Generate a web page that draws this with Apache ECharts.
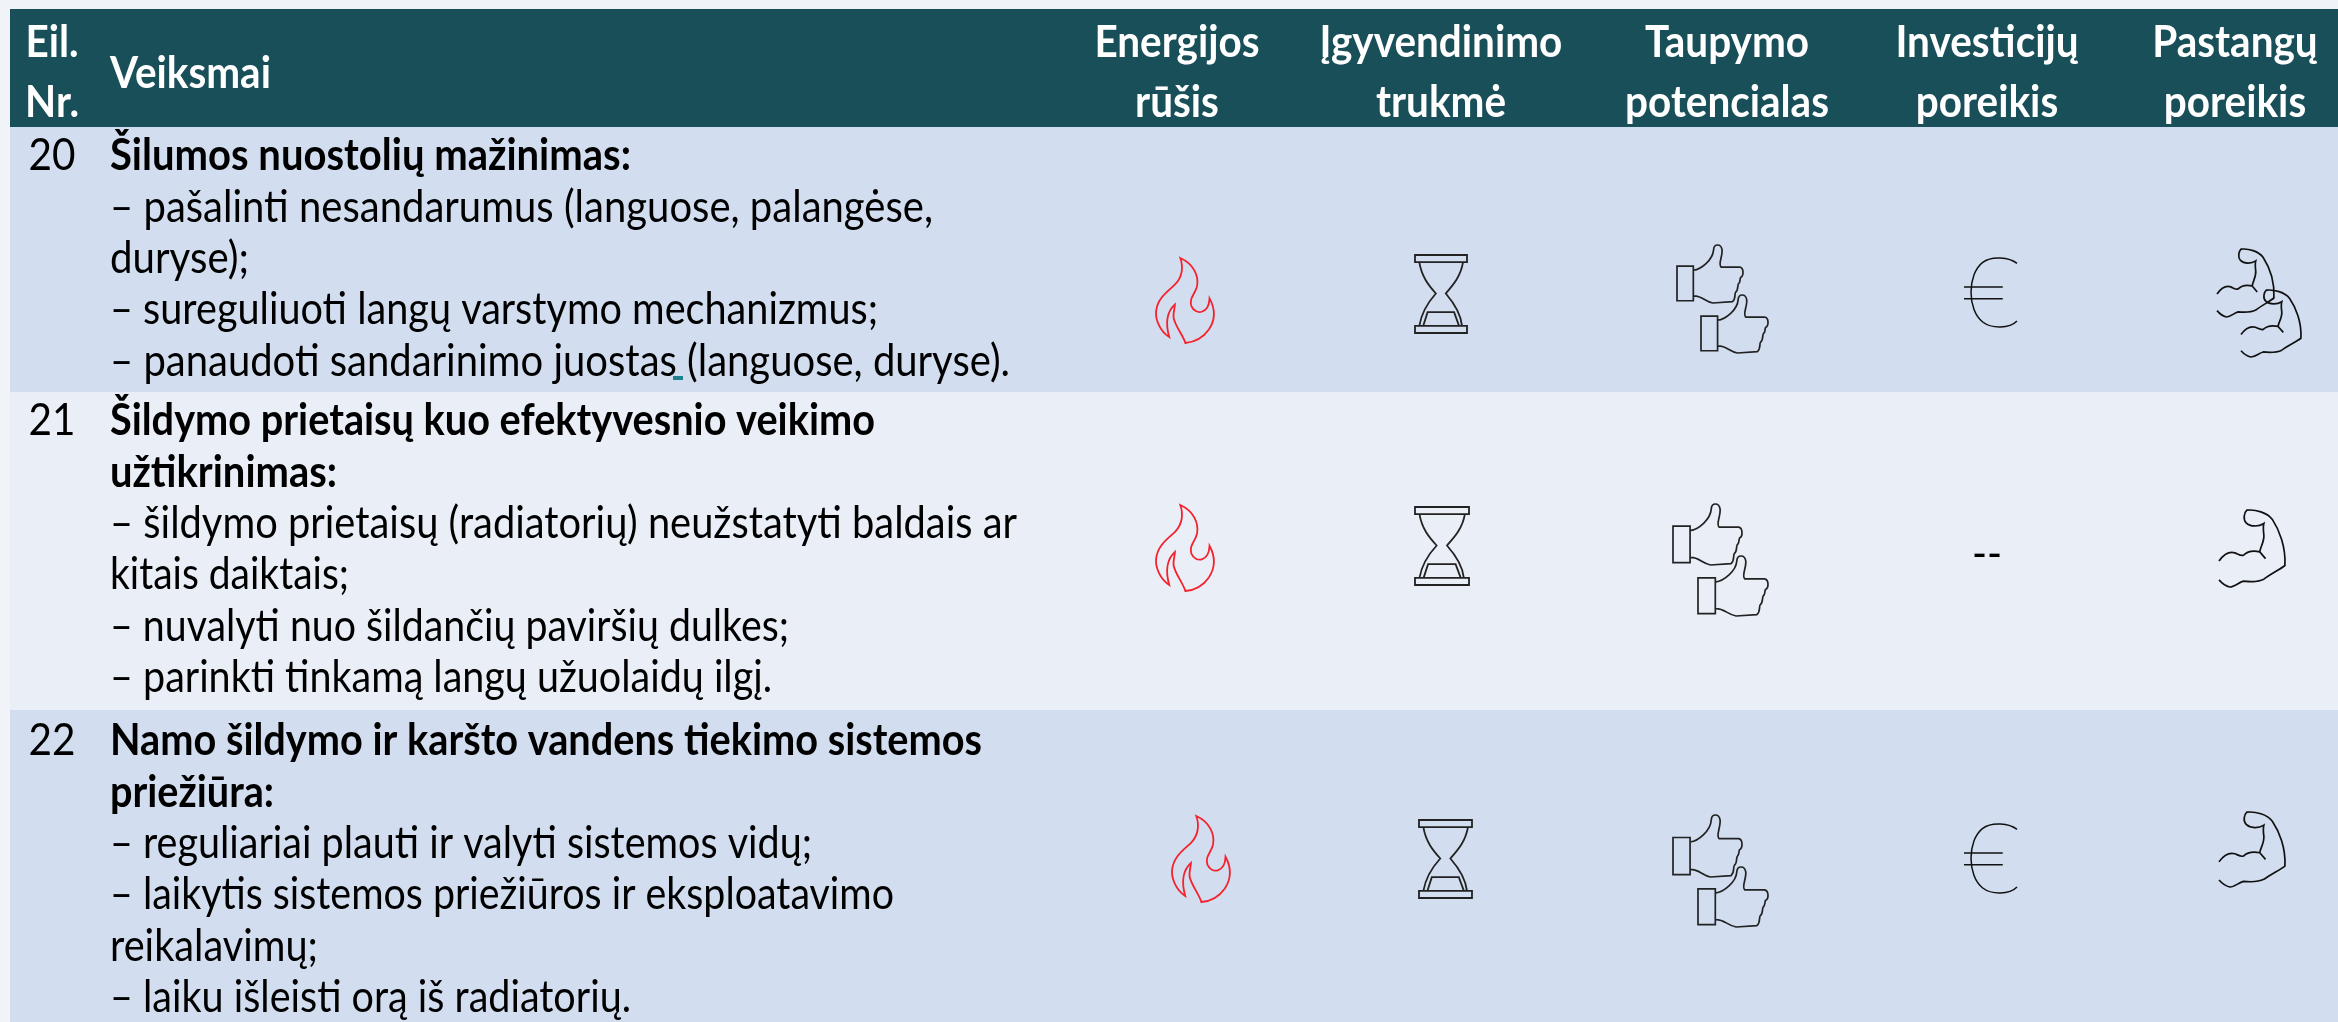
<!DOCTYPE html>
<html>
<head>
<meta charset="utf-8">
<title>Veiksmai</title>
<script src="https://cdn.jsdelivr.net/npm/echarts@6/dist/echarts.min.js"></script>
<style>
  html, body { margin: 0; padding: 0; background: #f0f4f8; }
  #main { width: 2338px; height: 1022px; }
</style>
</head>
<body>
<div id="main"></div>
<script>
// table content
const headerNumber = ['Eil.', 'Nr.'];
const headerActions = 'Veiksmai';
const headerColumns = [
  ['Energijos', 'rūšis'],
  ['Įgyvendinimo', 'trukmė'],
  ['Taupymo', 'potencialas'],
  ['Investicijų', 'poreikis'],
  ['Pastangų', 'poreikis']
];
const rowNumbers = ['20', '21', '22'];
const rowTitles = [
  ['Šilumos nuostolių mažinimas:'],
  ['Šildymo prietaisų kuo efektyvesnio veikimo', 'užtikrinimas:'],
  ['Namo šildymo ir karšto vandens tiekimo sistemos', 'priežiūra:']
];
const rowActions = [
  ['– pašalinti nesandarumus (languose, palangėse,', 'duryse);', '– sureguliuoti langų varstymo mechanizmus;', '– panaudoti sandarinimo juostas (languose, duryse).'],
  ['– šildymo prietaisų (radiatorių) neužstatyti baldais ar', 'kitais daiktais;', '– nuvalyti nuo šildančių paviršių dulkes;', '– parinkti tinkamą langų užuolaidų ilgį.'],
  ['– reguliariai plauti ir valyti sistemos vidų;', '– laikytis sistemos priežiūros ir eksploatavimo', 'reikalavimų;', '– laiku išleisti orą iš radiatorių.']
];
const savingsLevel = [2, 2, 2];
const investmentLevel = [1, 0, 1];
const effortLevel = [2, 1, 1];

// icon outlines
const flamePath = 'M150 87C190 105 205 140 200 170C195 195 175 205 183 230C195 258 235 255 237 207C255 240 255 270 235 300C215 328 190 338 165 340C160 320 135 290 130 265C128 250 134 235 134 225C112 245 105 280 117 322C90 305 75 270 78 245C82 205 115 185 135 165C155 145 160 115 150 87Z';
const glassPath = 'M855 77H1012V98H855ZM855 285H1012V306H855ZM868 98C875 140 895 165 918 190C895 215 875 245 868 285M1000 98C993 140 970 165 948 190C970 215 993 245 997 285M880 285L893 245H973L988 285';
const thumbPath = 'M40 95H90V202H40ZM90 108C115 105 150 75 152 45C153 25 175 25 178 45C180 65 165 90 175 98H232C245 100 245 125 235 130C232 135 235 145 228 150C225 155 228 170 220 175C215 180 222 195 210 205L150 209C125 205 115 185 90 187';
const euroPath = 'M847 103C830 85 790 80 770 100C735 135 735 240 770 275C790 295 830 295 847 272M728 172H815M728 207H815';
const armPath = 'M58 182C70 165 85 152 105 158C115 162 122 168 130 165C140 155 155 150 178 155L195 175M178 155C180 140 192 125 190 105C188 90 188 80 190 72C175 82 150 82 138 70C128 60 132 40 140 33C165 30 200 40 215 60C235 90 255 140 252 195C240 205 210 220 190 235C170 245 150 243 130 241C115 245 105 258 90 258C80 256 65 245 58 237';

// layout, in picture pixels
const FONT = 'Lato';
const FONT_SIZE = 44;
const TEXT_SCALE = 0.92;
const BASELINE_DROP = 12;
const bands = [
  [10, 9, 2338, 127, '#184f59'],
  [10, 127, 2338, 392, '#d2deef'],
  [10, 392, 2338, 710, '#eaeff7'],
  [10, 710, 2338, 1022, '#d2deef'],
  [673, 376, 683, 380, '#1f7f8c']
];
const columnCenters = [1177, 1441, 1727, 1987, 2235];
const numberCenter = 52;
const textLeft = 110;
const firstBaselines = [166, 431, 751];
const lineStep = 51.4;
// where each body line ends on the right, row by row
const lineEnds = [
  [631, 933, 249, 878, 1010],
  [875, 337, 1017, 349, 789, 772],
  [982, 274, 812, 894, 318, 631]
];

const flameBoxes = [[1156, 258, 1214, 343], [1156, 505, 1214, 591], [1172, 816, 1230, 902]];
const glassBoxes = [[1415, 255, 1467, 333], [1415, 507, 1469, 585], [1419, 820, 1472, 898]];
const thumbBoxes = [
  [[1677, 245, 1743, 303], [1701, 295, 1768, 353]],
  [[1673, 504, 1742, 565], [1698, 556, 1768, 616]],
  [[1673, 815, 1742, 877], [1698, 867, 1768, 927]]
];
const euroBoxes = [[1964, 258, 2017, 327], null, [1964, 824, 2017, 893]];
const dashPlace = [1987, 565];
const armBoxes = [
  [[2217, 249, 2274, 317], [2241, 290, 2301, 357]],
  [[2219, 510, 2285, 587]],
  [[2219, 812, 2285, 887]]
];

// the installed font is not the original one, so body lines get squeezed to their reference width
const measureCtx = document.createElement('canvas').getContext('2d');
function fitScale(text, bold, right) {
  measureCtx.font = (bold ? 'bold ' : '') + FONT_SIZE + 'px ' + FONT;
  return (right - textLeft) / measureCtx.measureText(text).width;
}

// flatten the table into text items and icon items
const textItems = [];
function addText(text, x, y, bold, color, align, scale) {
  textItems.push({ text, x, y, bold, color, align, scale: scale || TEXT_SCALE });
}
addText(headerNumber[0], numberCenter, 53, true, '#fff', 'center');
addText(headerNumber[1], numberCenter, 113, true, '#fff', 'center');
addText(headerActions, textLeft, 84, true, '#fff', 'left');
headerColumns.forEach(function (lines, c) {
  addText(lines[0], columnCenters[c], 53, true, '#fff', 'center');
  addText(lines[1], columnCenters[c], 113, true, '#fff', 'center');
});
rowNumbers.forEach(function (nr, r) {
  let y = firstBaselines[r];
  let n = 0;
  addText(nr, numberCenter, y, false, '#000', 'center');
  rowTitles[r].forEach(function (line) {
    addText(line, textLeft, y, true, '#000', 'left', fitScale(line, true, lineEnds[r][n++]));
    y += lineStep;
  });
  rowActions[r].forEach(function (line) {
    addText(line, textLeft, y, false, '#000', 'left', fitScale(line, false, lineEnds[r][n++]));
    y += lineStep;
  });
});
addText('--', dashPlace[0], dashPlace[1], false, '#000', 'center');

const iconItems = [];
rowNumbers.forEach(function (nr, r) {
  iconItems.push({ path: flamePath, box: flameBoxes[r], color: '#f5222d', width: 1.8 });
  iconItems.push({ path: glassPath, box: glassBoxes[r], color: '#222', width: 1.8 });
  for (let i = 0; i < savingsLevel[r]; i++) {
    iconItems.push({ path: thumbPath, box: thumbBoxes[r][i], color: '#222', width: 1.7 });
  }
  if (investmentLevel[r] > 0) {
    iconItems.push({ path: euroPath, box: euroBoxes[r], color: '#111', width: 1.5 });
  }
  for (let i = 0; i < effortLevel[r]; i++) {
    iconItems.push({ path: armPath, box: armBoxes[r][i], color: '#111', width: 1.7 });
  }
});

var myChart = echarts.init(document.getElementById('main'));

myChart.setOption({
  backgroundColor: '#f0f4f8',
  animation: false,
  tooltip: { show: false },
  grid: { left: 0, right: 0, top: 0, bottom: 0 },
  xAxis: { type: 'value', min: 0, max: 2338, show: false },
  yAxis: { type: 'value', min: 0, max: 1022, inverse: true, show: false },
  series: [
    {
      type: 'custom',
      coordinateSystem: 'cartesian2d',
      silent: true,
      data: bands.map(function (b, i) { return [i]; }),
      renderItem: function (params, api) {
        const b = bands[params.dataIndex];
        const p0 = api.coord([b[0], b[1]]);
        const p1 = api.coord([b[2], b[3]]);
        return {
          type: 'rect',
          shape: { x: p0[0], y: p0[1], width: p1[0] - p0[0], height: p1[1] - p0[1] },
          style: { fill: b[4] }
        };
      }
    },
    {
      type: 'custom',
      coordinateSystem: 'cartesian2d',
      silent: true,
      z: 3,
      data: iconItems.map(function (b, i) { return [i]; }),
      renderItem: function (params, api) {
        const it = iconItems[params.dataIndex];
        const p0 = api.coord([it.box[0], it.box[1]]);
        const p1 = api.coord([it.box[2], it.box[3]]);
        return {
          type: 'path',
          shape: { pathData: it.path, layout: 'cover', x: p0[0], y: p0[1], width: p1[0] - p0[0], height: p1[1] - p0[1] },
          style: { fill: 'none', stroke: it.color, lineWidth: it.width }
        };
      }
    },
    {
      type: 'custom',
      coordinateSystem: 'cartesian2d',
      silent: true,
      z: 4,
      data: textItems.map(function (b, i) { return [i]; }),
      renderItem: function (params, api) {
        const it = textItems[params.dataIndex];
        const p = api.coord([it.x, it.y + BASELINE_DROP]);
        return {
          type: 'text',
          x: p[0],
          y: p[1],
          scaleX: it.scale,
          style: {
            text: it.text,
            fill: it.color,
            align: it.align,
            verticalAlign: 'bottom',
            lineHeight: FONT_SIZE,
            fontFamily: FONT,
            fontSize: FONT_SIZE,
            fontWeight: it.bold ? 'bold' : 'normal'
          }
        };
      }
    }
  ]
});
</script>
</body>
</html>
